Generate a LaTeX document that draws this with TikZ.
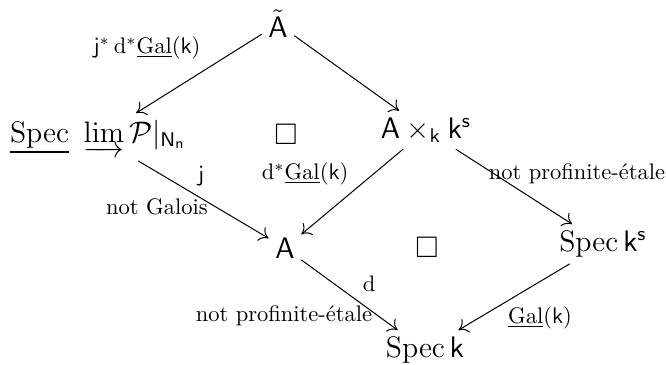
\documentclass[tikz,border=0pt]{standalone}
\usepackage{amsmath,amssymb}
\usetikzlibrary{arrows.meta}
\newcommand{\ulGal}{\underline{\mathrm{Gal}}}
\begin{document}
\begin{tikzpicture}[x=0.4444pt,y=-0.4444pt,
  obj/.style={font=\large,scale=1.1,inner sep=2.5pt},
  lab/.style={font=\normalsize,inner sep=0pt},
  arr/.style={-{To[length=4pt,width=7pt]},line width=0.45pt}]
\useasboundingbox (0,0) rectangle (666,364);
\node[obj] (At) at (278,24) {$\tilde{\mathsf{A}}$};
\node[obj] (SL) at (98,137) {$\underline{\mathrm{Spec}}\ \varinjlim \mathcal{P}|_{\mathsf{N}_{\mathsf{n}}}$};
\node[obj] (B1) at (286,134) {$\square$};
\node[obj] (AK) at (426,130) {$\mathsf{A}\times_{\mathsf{k}}\mathsf{k}^{\mathsf{s}}$};
\node[obj] (A) at (285,248) {$\mathsf{A}$};
\node[obj] (B2) at (427,247) {$\square$};
\node[obj] (Sks) at (603,244) {$\mathrm{Spec}\,\mathsf{k}^{\mathsf{s}}$};
\node[obj] (Sk) at (425,350) {$\mathrm{Spec}\,\mathsf{k}$};
\draw[arr] (At) -- (SL);
\draw[arr] (At) -- (AK);
\draw[arr] (SL) -- (A);
\draw[arr] (AK) -- (A);
\draw[arr] (AK) -- (Sks);
\draw[arr] (A) -- (Sk);
\draw[arr] (Sks) -- (Sk);
\node[lab] (l1) at (147,48) {$\mathsf{j}^*\,\mathrm{d}^*\ulGal(\mathsf{k})$};
\node[lab] (l2) at (201,176) {$\mathsf{j}$};
\node[lab] (l3) at (305,174) {$\mathrm{d}^*\ulGal(\mathsf{k})$};
\node[lab] (l4) at (157,207) {not Galois};
\node[lab] (l5) at (577,174) {not profinite-étale};
\node[lab] (l6) at (369,284) {d};
\node[lab] (l7) at (284,316) {not profinite-étale};
\node[lab] (l8) at (540,318) {$\ulGal(\mathsf{k})$};
\end{tikzpicture}
\end{document}
